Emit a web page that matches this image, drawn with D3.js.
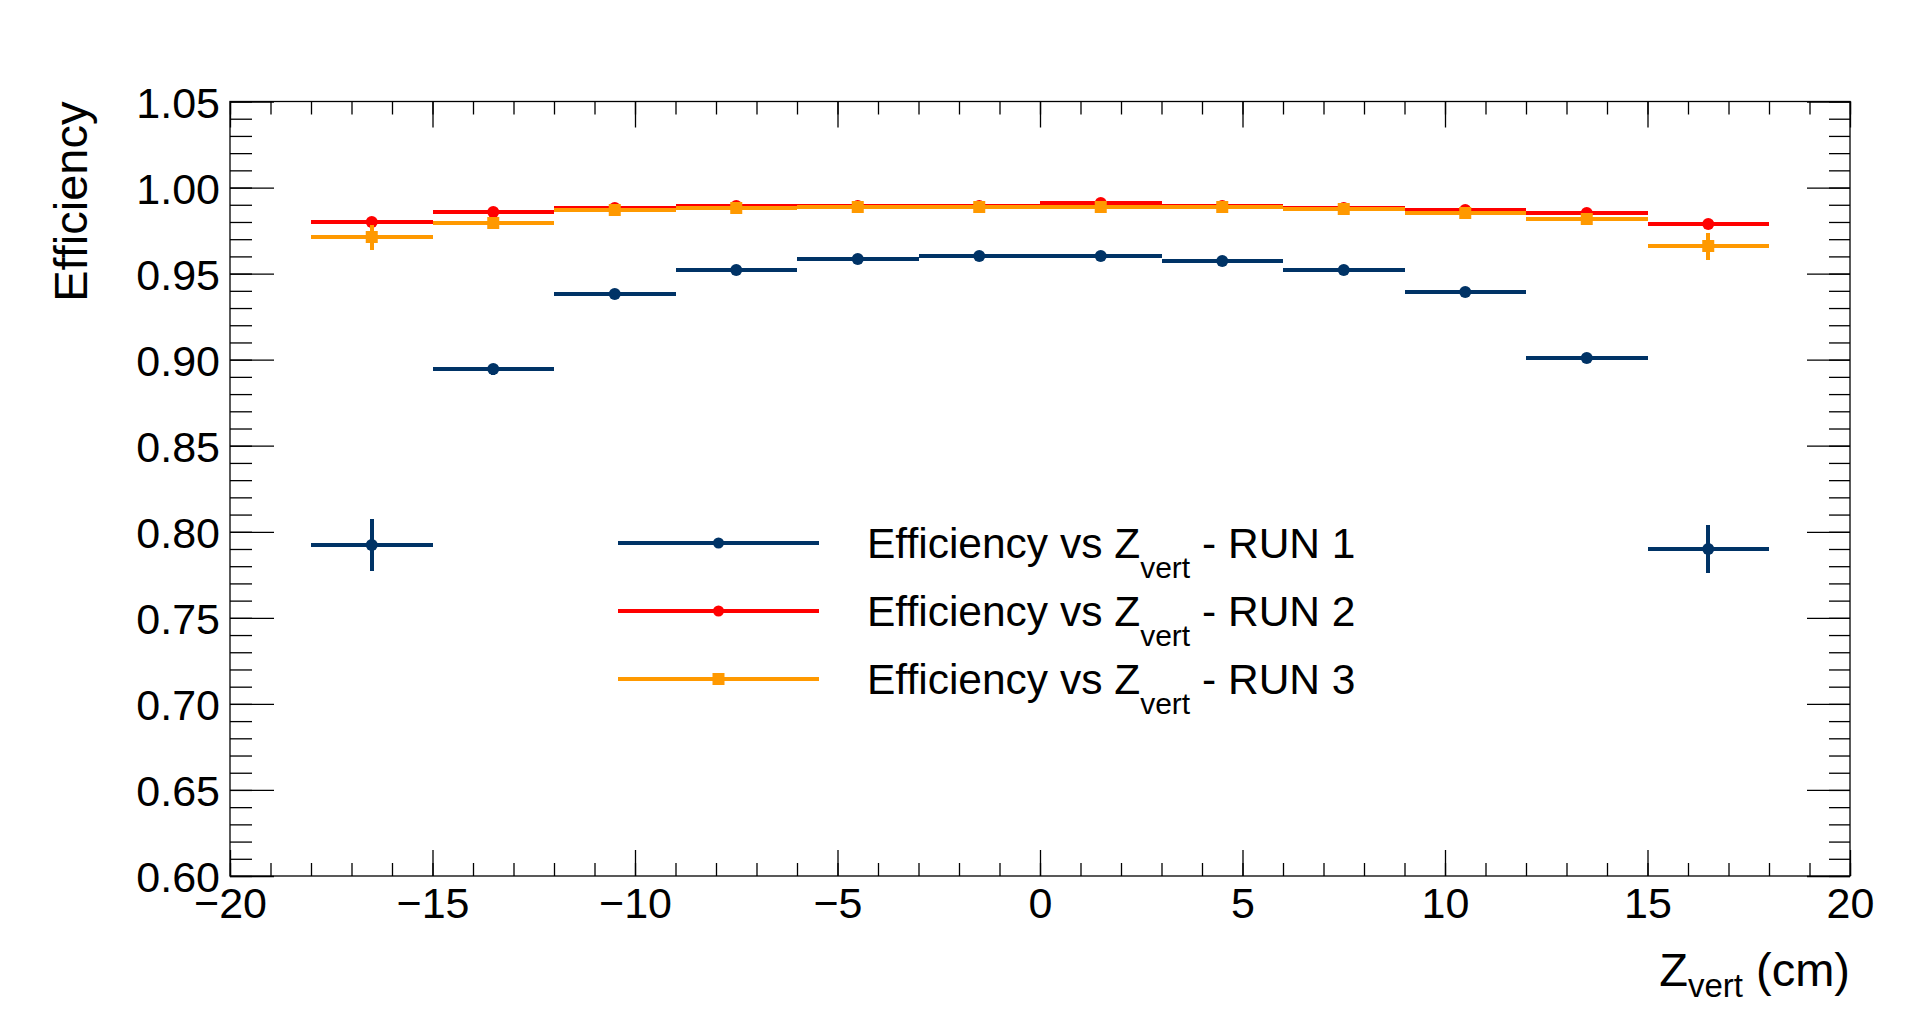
<!DOCTYPE html>
<html>
<head>
<meta charset="utf-8">
<script src="https://cdn.jsdelivr.net/npm/d3@7"></script>
<style>
  html, body { margin: 0; padding: 0; background: #fff; }
  svg { display: block; }
  text { font-family: "Liberation Sans", Arial, Helvetica, sans-serif; fill: #000; }
</style>
</head>
<body>
<svg id="chart" width="1918" height="1019"></svg>
<script>
// ---- data ----
const binCenters = [-16.5, -13.5, -10.5, -7.5, -4.5, -1.5, 1.5, 4.5, 7.5, 10.5, 13.5, 16.5];
const binHalfWidth = 1.5;

const run1 = [0.7925, 0.8943, 0.9379, 0.9521, 0.9583, 0.9605, 0.9604, 0.9575, 0.9521, 0.9393, 0.9010, 0.7900];
const run1Err = [0.015, 0.003, 0.002, 0.001, 0.001, 0.001, 0.001, 0.001, 0.001, 0.002, 0.003, 0.014];

const run2 = [0.9800, 0.9856, 0.9883, 0.9890, 0.9890, 0.9890, 0.9913, 0.9890, 0.9882, 0.9870, 0.9850, 0.9788];
const run2Err = [0.002, 0.001, 0.001, 0.001, 0.001, 0.001, 0.001, 0.001, 0.001, 0.001, 0.001, 0.002];

const run3 = [0.9710, 0.9794, 0.9870, 0.9880, 0.9888, 0.9888, 0.9887, 0.9887, 0.9875, 0.9855, 0.9815, 0.9658];
const run3Err = [0.007, 0.002, 0.001, 0.001, 0.001, 0.001, 0.001, 0.001, 0.001, 0.001, 0.002, 0.0077];

const seriesNames = ["RUN 1", "RUN 2", "RUN 3"];
const seriesColors = ["#003366", "#ff0000", "#ff9900"];
const seriesMarkers = ["circle", "circle", "square"];

const xTickValues = [-20, -15, -10, -5, 0, 5, 10, 15, 20];
const yTickValues = [0.60, 0.65, 0.70, 0.75, 0.80, 0.85, 0.90, 0.95, 1.00, 1.05];

// ---- layout ----
const W = 1918, H = 1019;
const L = 230, R = 1850, T = 101.5, B = 876;

const svg = d3.select("#chart");
svg.append("rect").attr("width", W).attr("height", H).attr("fill", "#fff");

const x = d3.scaleLinear().domain([-20, 20]).range([L, R]);
const y = d3.scaleLinear().domain([0.60, 1.05]).range([B, T]);

const fmtX = d => (d < 0 ? "\u2212" + Math.abs(d) : String(d));
const fmtY = d3.format(".2f");

const xMinor = d3.range(-20, 20.001, 1);
const yMinor = d3.range(0, 46).map(i => 0.60 + i * 0.01);

// frame
svg.append("rect")
  .attr("x", L).attr("y", T).attr("width", R - L).attr("height", B - T)
  .attr("fill", "none").attr("stroke", "#000").attr("stroke-width", 1.3);

function styleAxis(g) {
  g.select(".domain").remove();
  g.selectAll("line").attr("stroke", "#000").attr("stroke-width", 1.3);
}

// bottom major + labels
const xAxisB = d3.axisBottom(x).tickValues(xTickValues).tickFormat(fmtX).tickSizeInner(-26).tickSizeOuter(0);
svg.append("g").attr("transform", `translate(0,${B})`).call(xAxisB).call(styleAxis)
  .call(g => g.selectAll("text").attr("font-size", 43).attr("font-family", "Liberation Sans, Arial, sans-serif").attr("fill", "#000").attr("dy", "0.72em").attr("y", 11));
svg.append("g").attr("transform", `translate(0,${B})`)
  .call(d3.axisBottom(x).tickValues(xMinor).tickFormat("").tickSizeInner(-13).tickSizeOuter(0)).call(styleAxis);
// top
svg.append("g").attr("transform", `translate(0,${T})`)
  .call(d3.axisTop(x).tickValues(xTickValues).tickFormat("").tickSizeInner(-26).tickSizeOuter(0)).call(styleAxis);
svg.append("g").attr("transform", `translate(0,${T})`)
  .call(d3.axisTop(x).tickValues(xMinor).tickFormat("").tickSizeInner(-13).tickSizeOuter(0)).call(styleAxis);

// left major + labels
const yAxisL = d3.axisLeft(y).tickValues(yTickValues).tickFormat(fmtY).tickSizeInner(-44).tickSizeOuter(0);
svg.append("g").attr("transform", `translate(${L},0)`).call(yAxisL).call(styleAxis)
  .call(g => g.selectAll("text").attr("font-size", 43).attr("font-family", "Liberation Sans, Arial, sans-serif").attr("fill", "#000").attr("x", -10).attr("dy", "0.37em"));
svg.append("g").attr("transform", `translate(${L},0)`)
  .call(d3.axisLeft(y).tickValues(yMinor).tickFormat("").tickSizeInner(-22).tickSizeOuter(0)).call(styleAxis);
// right
svg.append("g").attr("transform", `translate(${R},0)`)
  .call(d3.axisRight(y).tickValues(yTickValues).tickFormat("").tickSizeInner(-43).tickSizeOuter(0)).call(styleAxis);
svg.append("g").attr("transform", `translate(${R},0)`)
  .call(d3.axisRight(y).tickValues(yMinor).tickFormat("").tickSizeInner(-21).tickSizeOuter(0)).call(styleAxis);

// axis titles
const xt = svg.append("text").attr("x", R).attr("y", 986).attr("text-anchor", "end").attr("font-size", 47);
xt.append("tspan").text("Z");
xt.append("tspan").attr("font-size", 33).attr("dy", 11).text("vert");
xt.append("tspan").attr("dy", -11).text(" (cm)");

svg.append("text")
  .attr("transform", `translate(87,${T}) rotate(-90)`)
  .attr("text-anchor", "end").attr("font-size", 47)
  .text("Efficiency");

// ---- data marks ----
const allRuns = [
  { vals: run1, errs: run1Err },
  { vals: run2, errs: run2Err },
  { vals: run3, errs: run3Err }
];

function drawMarker(g, kind, cx, cy, color, size) {
  if (kind === "circle") {
    g.append("circle").attr("cx", cx).attr("cy", cy).attr("r", size / 2).attr("fill", color);
  } else {
    g.append("rect").attr("x", cx - size / 2).attr("y", cy - size / 2)
      .attr("width", size).attr("height", size).attr("fill", color);
  }
}

allRuns.forEach((run, si) => {
  const color = seriesColors[si];
  const g = svg.append("g").attr("class", "series-" + si);
  binCenters.forEach((c, i) => {
    const v = run.vals[i], e = run.errs[i];
    const yv = Math.round(y(v));
    g.append("line")
      .attr("x1", x(c - binHalfWidth)).attr("x2", x(c + binHalfWidth))
      .attr("y1", yv).attr("y2", yv)
      .attr("stroke", color).attr("stroke-width", 4).attr("shape-rendering", "crispEdges");
    g.append("line")
      .attr("x1", Math.round(x(c))).attr("x2", Math.round(x(c)))
      .attr("y1", y(v - e)).attr("y2", y(v + e))
      .attr("stroke", color).attr("stroke-width", 4).attr("shape-rendering", "crispEdges");
    drawMarker(g, seriesMarkers[si], x(c), yv, color, seriesMarkers[si] === "circle" ? 12 : 12);
  });
});

// ---- legend ----
const legX1 = 618, legX2 = 819, legTextX = 867;
const legRows = [543, 611, 679];
seriesNames.forEach((name, si) => {
  const ry = legRows[si];
  const color = seriesColors[si];
  const g = svg.append("g").attr("class", "legend-" + si);
  g.append("line").attr("x1", legX1).attr("x2", legX2).attr("y1", ry).attr("y2", ry)
    .attr("stroke", color).attr("stroke-width", 4).attr("shape-rendering", "crispEdges");
  drawMarker(g, seriesMarkers[si], (legX1 + legX2) / 2, ry, color, seriesMarkers[si] === "circle" ? 11 : 12);
  const t = g.append("text").attr("x", legTextX).attr("y", ry + 15).attr("font-size", 42.5);
  t.append("tspan").text("Efficiency vs Z");
  t.append("tspan").attr("font-size", 30).attr("dy", 20).text("vert");
  t.append("tspan").attr("dy", -20).text(" - " + name);
});
</script>
</body>
</html>
